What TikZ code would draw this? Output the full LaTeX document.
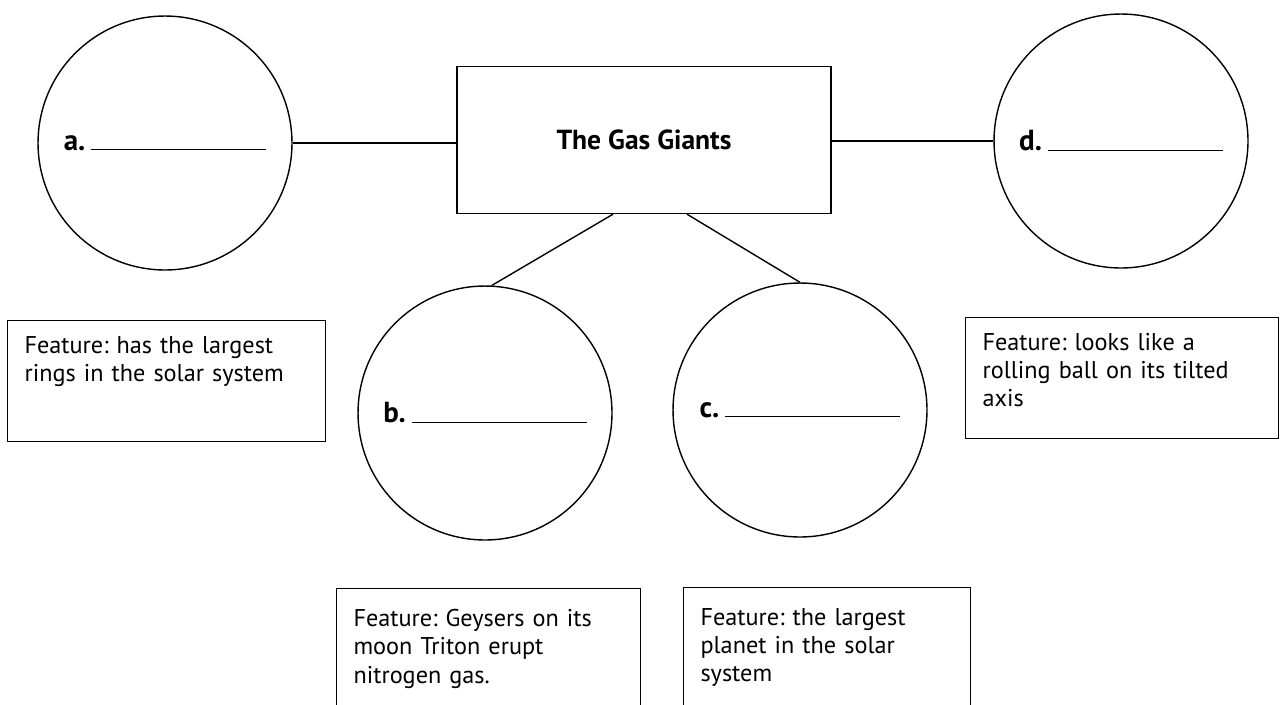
\documentclass[tikz,border=0pt]{standalone}
\usepackage{fontspec}
\setmainfont{PT Sans}
\frenchspacing
\usetikzlibrary{positioning}

\newcommand{\blankline}[1]{\textbf{#1}\hspace{0.12cm}\rule{3.5cm}{0.6pt}}

\begin{document}
\begin{tikzpicture}[x=0.02cm,y=-0.02cm,
        planet/.style={draw, circle, line width=0.8pt, minimum size=5.08cm, inner sep=0pt, font=\fontsize{16.5}{16}\selectfont},
        topic/.style={draw, rectangle, line width=0.8pt, minimum width=7.48cm, minimum height=2.94cm, font=\fontsize{15.7}{16}\selectfont\bfseries},
        featbox/.style={draw, rectangle, line width=0.6pt, anchor=north west, align=left, inner xsep=0.34cm, inner ysep=0.32cm, font=\fontsize{13.8}{16}\selectfont}]
        \useasboundingbox (0,0) rectangle (1280,704);
        \clip (0,0) rectangle (1280,704);

        \node[topic] (gas) at (644,140) {The Gas Giants};
        \node[planet] (a) at (165,143) {\blankline{a.}};
        \node[planet] (d) at (1121,141) {\blankline{d.}};
        \node[planet] (b) at (485,413) {\blankline{b.}};
        \node[planet] (c) at (800,410) {\blankline{c.}};

        \node[featbox, text width=5.68cm, text depth=1.44cm] (fa) at (7,320) {Feature: has the largest\\rings in the solar system};
        \node[featbox, text width=5.58cm, text depth=1.44cm] (fd) at (965,317) {Feature: looks like a\\rolling ball on its tilted\\axis};
        \node[featbox, inner ysep=0.42cm, text width=5.4cm, text depth=2cm] (fb) at (336,588) {Feature: Geysers on its\\moon Triton erupt\\nitrogen gas.};
        \node[featbox, inner ysep=0.42cm, text width=5.06cm, text depth=2cm] (fc) at (683,587) {Feature: the largest\\planet in the solar\\system};

        \draw[line width=0.8pt] (a.east) -- (a.east -| gas.west);
        \draw[line width=0.8pt] (gas.east |- d.west) -- (d.west);
        \draw[line width=0.8pt] ([xshift=-0.62cm]gas.south) -- (b.87);
        \draw[line width=0.8pt] ([xshift=0.86cm]gas.south) -- (c.north);

    \end{tikzpicture}
\end{document}
